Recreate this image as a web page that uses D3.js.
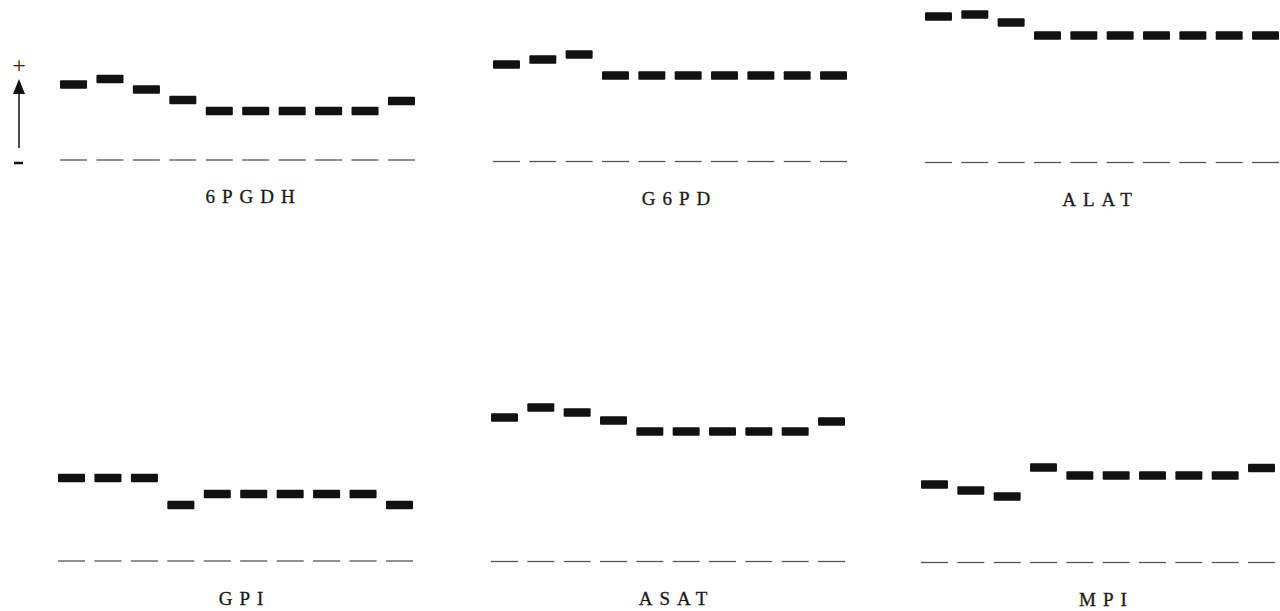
<!DOCTYPE html>
<html>
<head>
<meta charset="utf-8">
<script src="https://cdn.jsdelivr.net/npm/d3@7/dist/d3.min.js"></script>
<style>
  html, body { margin: 0; padding: 0; background: #fff; }
  svg { display: block; }
</style>
</head>
<body>
<svg id="chart" width="1280" height="611"></svg>
<script>
// ---- data ----
const lanes = [1, 2, 3, 4, 5, 6, 7, 8, 9, 10];
const enzymes = ["6PGDH", "G6PD", "ALAT", "GPI", "ASAT", "MPI"];
// relative anodal mobility of each band (distance from origin, arbitrary units)
const mob_6PGDH = [75.5, 81, 70.5, 60, 49, 49, 49, 49, 49, 59];
const mob_G6PD  = [97, 102, 107, 86, 86, 86, 86, 86, 86, 86];
const mob_ALAT  = [146, 148, 140, 127, 127, 127, 127, 127, 127, 127];
const mob_GPI   = [83, 83, 83, 56, 67, 67, 67, 67, 67, 56];
const mob_ASAT  = [144, 154, 149, 141, 130, 130, 130, 130, 130, 140];
const mob_MPI   = [78, 72, 66, 95, 87, 87, 87, 87, 87, 94.5];
const mobilities = [mob_6PGDH, mob_G6PD, mob_ALAT, mob_GPI, mob_ASAT, mob_MPI];

// ---- layout ----
const layout = [
  { x0: 60,  x1: 415,  base: 160,   labelX: 250,  labelY: 203 },
  { x0: 493, x1: 847,  base: 161.5, labelX: 676,  labelY: 205 },
  { x0: 925, x1: 1279, base: 162.5, labelX: 1097, labelY: 206 },
  { x0: 58,  x1: 413,  base: 561,   labelX: 241,  labelY: 605 },
  { x0: 491, x1: 845,  base: 561.5, labelX: 673,  labelY: 605 },
  { x0: 921, x1: 1275, base: 562.5, labelX: 1103, labelY: 606 }
];

const svg = d3.select("#chart");
const bandH = 8.5;
const spacing = 7;

enzymes.forEach((name, i) => {
  const L = layout[i];
  const x = d3.scaleBand().domain(lanes).range([L.x0, L.x1]).paddingInner(0.258).paddingOuter(0);
  const y = d3.scaleLinear().domain([0, 160]).range([L.base, L.base - 160]);
  const g = svg.append("g").attr("class", "panel");
  const vals = mobilities[i];

  // origin dashes
  g.selectAll("line.origin").data(lanes).enter().append("line")
    .attr("class", "origin")
    .attr("x1", d => x(d)).attr("x2", d => x(d) + x.bandwidth())
    .attr("y1", y(0)).attr("y2", y(0))
    .attr("stroke", "#555").attr("stroke-width", 1.3);

  // bands
  g.selectAll("rect.band").data(lanes).enter().append("rect")
    .attr("class", "band")
    .attr("x", d => x(d))
    .attr("y", (d, j) => y(vals[j]) - bandH / 2)
    .attr("width", x.bandwidth())
    .attr("height", bandH)
    .attr("rx", 1)
    .attr("fill", "#111");

  // label
  g.append("text")
    .attr("x", L.labelX + spacing / 2)
    .attr("y", L.labelY)
    .attr("text-anchor", "middle")
    .attr("font-family", "'Liberation Serif', 'DejaVu Serif', serif")
    .attr("font-size", 19)
    .attr("letter-spacing", spacing)
    .attr("fill", "#1a1a1a")
    .attr("stroke", "#1a1a1a")
    .attr("stroke-width", 0.3)
    .text(name);
});

// polarity arrow
const ax = 19;
const arrow = svg.append("g");
arrow.append("line").attr("x1", ax).attr("x2", ax).attr("y1", 148).attr("y2", 92)
  .attr("stroke", "#222").attr("stroke-width", 1.6);
arrow.append("path").attr("d", `M${ax},79 L${ax - 6},94 L${ax + 6},94 Z`).attr("fill", "#111");
arrow.append("text").attr("x", ax).attr("y", 73).attr("text-anchor", "middle")
  .attr("font-family", "'Liberation Serif', serif").attr("font-size", 24).attr("fill", "#222").text("+");
arrow.append("line").attr("x1", ax - 5).attr("x2", ax + 4).attr("y1", 163).attr("y2", 163)
  .attr("stroke", "#111").attr("stroke-width", 2.5);
</script>
</body>
</html>
